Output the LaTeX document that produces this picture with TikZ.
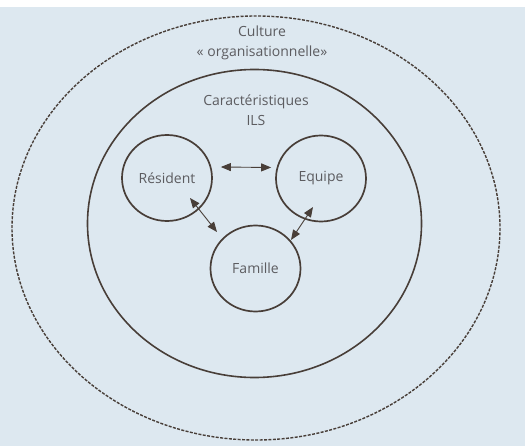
\documentclass[tikz,border=0pt]{standalone}
\usepackage{fontspec}
\setmainfont{Open Sans}
\usepackage{tikz}
\usetikzlibrary{arrows.meta,calc,positioning,shapes.geometric}

\definecolor{scanblue}{RGB}{221,232,240}
\definecolor{inkline}{RGB}{72,62,56}
\definecolor{inktext}{RGB}{92,92,96}

\tikzset{
  actor/.style={draw=inkline,line width=1.7pt,ellipse,minimum width=90pt,minimum height=86pt,
    text=inktext,font=\fontsize{14}{20}\selectfont},
  label/.style={text=inktext,font=\fontsize{14}{20}\selectfont,align=center},
  link/.style={<->,inkline,line width=0.9pt},
}

\begin{document}
\begin{tikzpicture}[>={Triangle[length=10pt,width=8pt]},x=1pt,y=-1pt]
    \useasboundingbox (0,0) rectangle (525,446);
    \fill[scanblue] (0,0) rectangle (525,446);
    \fill[white] (0,0) rectangle (525,7);

    % culture and ILS
    \draw[inkline,line width=1.4pt,dash pattern=on 3pt off 1.4pt] (256,228) ellipse [x radius=244, y radius=212];
    \draw[inkline,line width=1.6pt] (254.5,223.5) ellipse [x radius=167, y radius=154];
    \node[label] (cult) at (262,43) {Culture\\« organisationnelle»};
    \node[label] (ils) at (256,110) {Caractéristiques\\ILS};

    % the three actors
    \node[actor] (res) at (167,178) {Résident};
    \node[actor] (equ) at (321,178.5) {Equipe};
    \node[actor] (fam) at (255.5,268.5) {Famille};

    \coordinate (rf) at (190,198);
    \coordinate (fr) at (217,232);
    \coordinate (ef) at (313,207);
    \coordinate (fe) at (291,240);
    \draw[link] ([xshift=8pt,yshift=11pt]res.east) -- ([xshift=-4pt,yshift=11pt]equ.west);
    \draw[link] (rf) -- (fr);
    \draw[link] (ef) -- (fe);
  \end{tikzpicture}
\end{document}
